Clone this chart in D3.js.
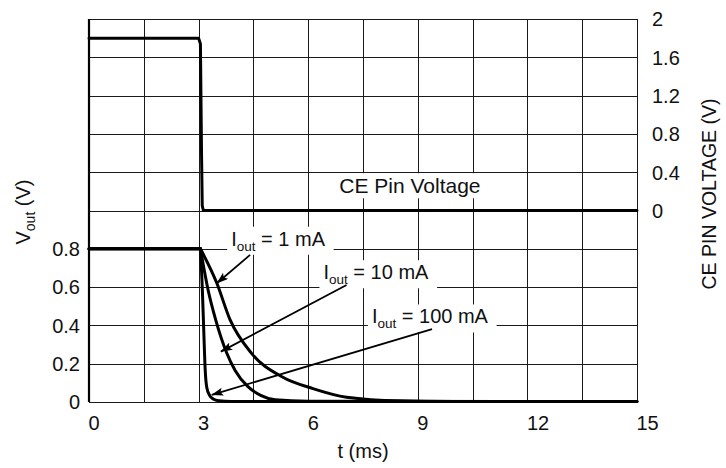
<!DOCTYPE html>
<html>
<head>
<meta charset="utf-8">
<script src="https://cdn.jsdelivr.net/npm/d3@7"></script>
<style>
  html, body { margin: 0; padding: 0; background: #fff; }
  svg text { font-family: "Liberation Sans", Arial, Helvetica, sans-serif; fill: #111; }
</style>
</head>
<body>
<svg id="chart" width="726" height="468"></svg>
<script>
// ---------------- data ----------------
const xTicks = [0, 3, 6, 9, 12, 15];
const xGrid = [0, 1.5, 3, 4.5, 6, 7.5, 9, 10.5, 12, 13.5, 15];
const leftTicks = [0, 0.2, 0.4, 0.6, 0.8];
const leftTickLabels = ["0", "0.2", "0.4", "0.6", "0.8"];
const rightTicks = [0, 0.4, 0.8, 1.2, 1.6, 2];
const rightTickLabels = ["0", "0.4", "0.8", "1.2", "1.6", "2"];
const yGrid = [0, 0.2, 0.4, 0.6, 0.8, 1.0, 1.2, 1.4, 1.6, 1.8, 2.0];

// CE pin voltage (right axis)
const ceTime = [0, 3.0, 3.05, 3.08, 3.1, 3.13, 15];
const ceVolt = [1.8, 1.8, 1.74, 0.6, 0.05, 0, 0];

// Vout, Iout = 1 mA
const t1mA = [0, 3.05, 3.5, 3.86, 4.45, 5.28, 6.13, 7.05, 8.5, 10, 15];
const v1mA = [0.8, 0.8, 0.62, 0.43, 0.254, 0.132, 0.07, 0.025, 0.006, 0.003, 0.002];
// Vout, Iout = 10 mA
const t10mA = [0, 3.05, 3.26, 3.47, 3.77, 4.0, 4.35, 4.7, 5.09, 6.0, 15];
const v10mA = [0.8, 0.8, 0.585, 0.428, 0.256, 0.165, 0.08, 0.035, 0.012, 0.004, 0.002];
// Vout, Iout = 100 mA
const t100mA = [0, 3.05, 3.1, 3.14, 3.18, 3.22, 3.3, 3.4, 3.55, 3.9, 15];
const v100mA = [0.8, 0.8, 0.6, 0.38, 0.17, 0.08, 0.035, 0.016, 0.007, 0.003, 0.002];

// annotations (data coords on Vout axis; text anchored at its right end)
const annLabels = ["1 mA", "10 mA", "100 mA"];
const annTextEndT = [6.46, 9.29, 10.92];
const annTextV = [0.816, 0.641, 0.41];
const arrowFromT = [4.41, 7.05, 9.39];
const arrowFromV = [0.768, 0.611, 0.381];
const arrowToT = [3.50, 3.61, 3.36];
const arrowToV = [0.62, 0.263, 0.037];
const ceLabel = "CE Pin Voltage";
const ceLabelT = 6.85, ceLabelV = 0.18;

// ---------------- layout ----------------
const svg = d3.select("#chart");
const L = 89, R = 637, T = 19, B = 402;
const FS = 20;

const x = d3.scaleLinear().domain([0, 15]).range([L, R]);
const yL = d3.scaleLinear().domain([0, 2]).range([B, T]);
const yR = d3.scaleLinear().domain([-2, 2]).range([B, T]);
const px = v => Math.round(v) + 0.5;

// grid
const grid = svg.append("g").attr("stroke", "#1a1a1a").attr("stroke-width", 1);
grid.selectAll("line.v").data(xGrid).join("line").attr("class", "v")
  .attr("x1", d => px(x(d))).attr("x2", d => px(x(d))).attr("y1", T).attr("y2", B);
grid.selectAll("line.h").data(yGrid).join("line").attr("class", "h")
  .attr("x1", L).attr("x2", R).attr("y1", d => px(yL(d))).attr("y2", d => px(yL(d)));
// left frame thicker
svg.append("line").attr("x1", L).attr("x2", L).attr("y1", T).attr("y2", B)
  .attr("stroke", "#000").attr("stroke-width", 2.2);

// axes
const axB = svg.append("g").attr("transform", `translate(0,${B})`)
  .call(d3.axisBottom(x).tickValues(xTicks).tickSize(0).tickFormat(d3.format("d")));
axB.select(".domain").remove();
axB.selectAll("text").attr("font-size", FS).attr("text-anchor", "start").attr("x", -1).attr("y", 0).attr("dy", "1.4em");

const axL = svg.append("g").attr("transform", `translate(${L},0)`)
  .call(d3.axisLeft(yL).tickValues(leftTicks).tickSize(0).tickFormat((d, i) => leftTickLabels[i]));
axL.select(".domain").remove();
axL.selectAll("text").attr("font-size", FS).attr("x", -9).attr("dy", "0.34em");

const axR = svg.append("g").attr("transform", `translate(${R},0)`)
  .call(d3.axisRight(yR).tickValues(rightTicks).tickSize(0).tickFormat((d, i) => rightTickLabels[i]));
axR.select(".domain").remove();
axR.selectAll("text").attr("font-size", FS).attr("x", 15).attr("dy", "0.34em");

svg.selectAll(".tick text").attr("fill", "#111").style("font-family", '"Liberation Sans", Arial, sans-serif');

// axis titles
svg.append("text").attr("x", x(7.5)).attr("y", 458).attr("text-anchor", "middle").attr("font-size", FS).text("t (ms)");
const vt = svg.append("text").attr("transform", "translate(30,212) rotate(-90)").attr("text-anchor", "middle").attr("font-size", FS);
vt.append("tspan").text("V");
vt.append("tspan").attr("font-size", 14).attr("dy", 5).text("out");
vt.append("tspan").attr("dy", -5).text(" (V)");
svg.append("text").attr("transform", "translate(716,194) rotate(-90)").attr("text-anchor", "middle").attr("font-size", 19.5)
  .text("CE PIN VOLTAGE (V)");

// annotation labels with white boxes
function addLabel(gx, gy, anchor, size, build) {
  const g = svg.append("g");
  const bg = g.append("rect").attr("fill", "#fff");
  const t = g.append("text").attr("x", gx).attr("y", gy).attr("font-size", size).attr("text-anchor", anchor);
  build(t);
  const bb = t.node().getBBox();
  bg.attr("x", bb.x - 4).attr("y", bb.y - 1).attr("width", bb.width + 12).attr("height", bb.height + 2);
}
addLabel(x(ceLabelT), yR(ceLabelV), "start", 21, t => t.text(ceLabel));
annLabels.forEach((lab, i) => {
  addLabel(x(annTextEndT[i]), yL(annTextV[i]), "end", FS, t => {
    t.append("tspan").text("I");
    t.append("tspan").attr("font-size", 13.5).attr("dy", 5).text("out");
    t.append("tspan").attr("dy", -5).text(" = " + lab);
  });
});

// arrow marker
svg.append("defs").append("marker").attr("id", "ah")
  .attr("viewBox", "0 0 12 8").attr("refX", 11.5).attr("refY", 4)
  .attr("markerWidth", 12).attr("markerHeight", 8).attr("markerUnits", "userSpaceOnUse")
  .attr("orient", "auto")
  .append("path").attr("d", "M0,0 L12,4 L0,8 L2.5,4 Z").attr("fill", "#000");

annLabels.forEach((lab, i) => {
  svg.append("line")
    .attr("x1", x(arrowFromT[i])).attr("y1", yL(arrowFromV[i]))
    .attr("x2", x(arrowToT[i])).attr("y2", yL(arrowToV[i]))
    .attr("stroke", "#000").attr("stroke-width", 1.8).attr("marker-end", "url(#ah)");
});

// curves: flat part drawn linearly, decay part with monotone interpolation
const lineFlat = d3.line().x(d => x(d[0])).y(d => yL(d[1]));
const lineDecay = d3.line().x(d => x(d[0])).y(d => yL(d[1])).curve(d3.curveMonotoneX);
const lineR = d3.line().x(d => x(d[0])).y(d => yR(d[1]));
const series = [[t1mA, v1mA], [t10mA, v10mA], [t100mA, v100mA]];
const style = p => p.attr("fill", "none").attr("stroke", "#000").attr("stroke-width", 3)
  .attr("stroke-linecap", "round").attr("stroke-linejoin", "round");
series.forEach(([ts, vs]) => {
  const pts = ts.map((t, i) => [t, vs[i]]);
  svg.append("path").datum(pts.slice(0, 2)).attr("d", lineFlat).call(style);
  svg.append("path").datum(pts.slice(1)).attr("d", lineDecay).call(style);
});
svg.append("path").datum(ceTime.map((t, i) => [t, ceVolt[i]])).attr("d", lineR).call(style);
</script>
</body>
</html>
